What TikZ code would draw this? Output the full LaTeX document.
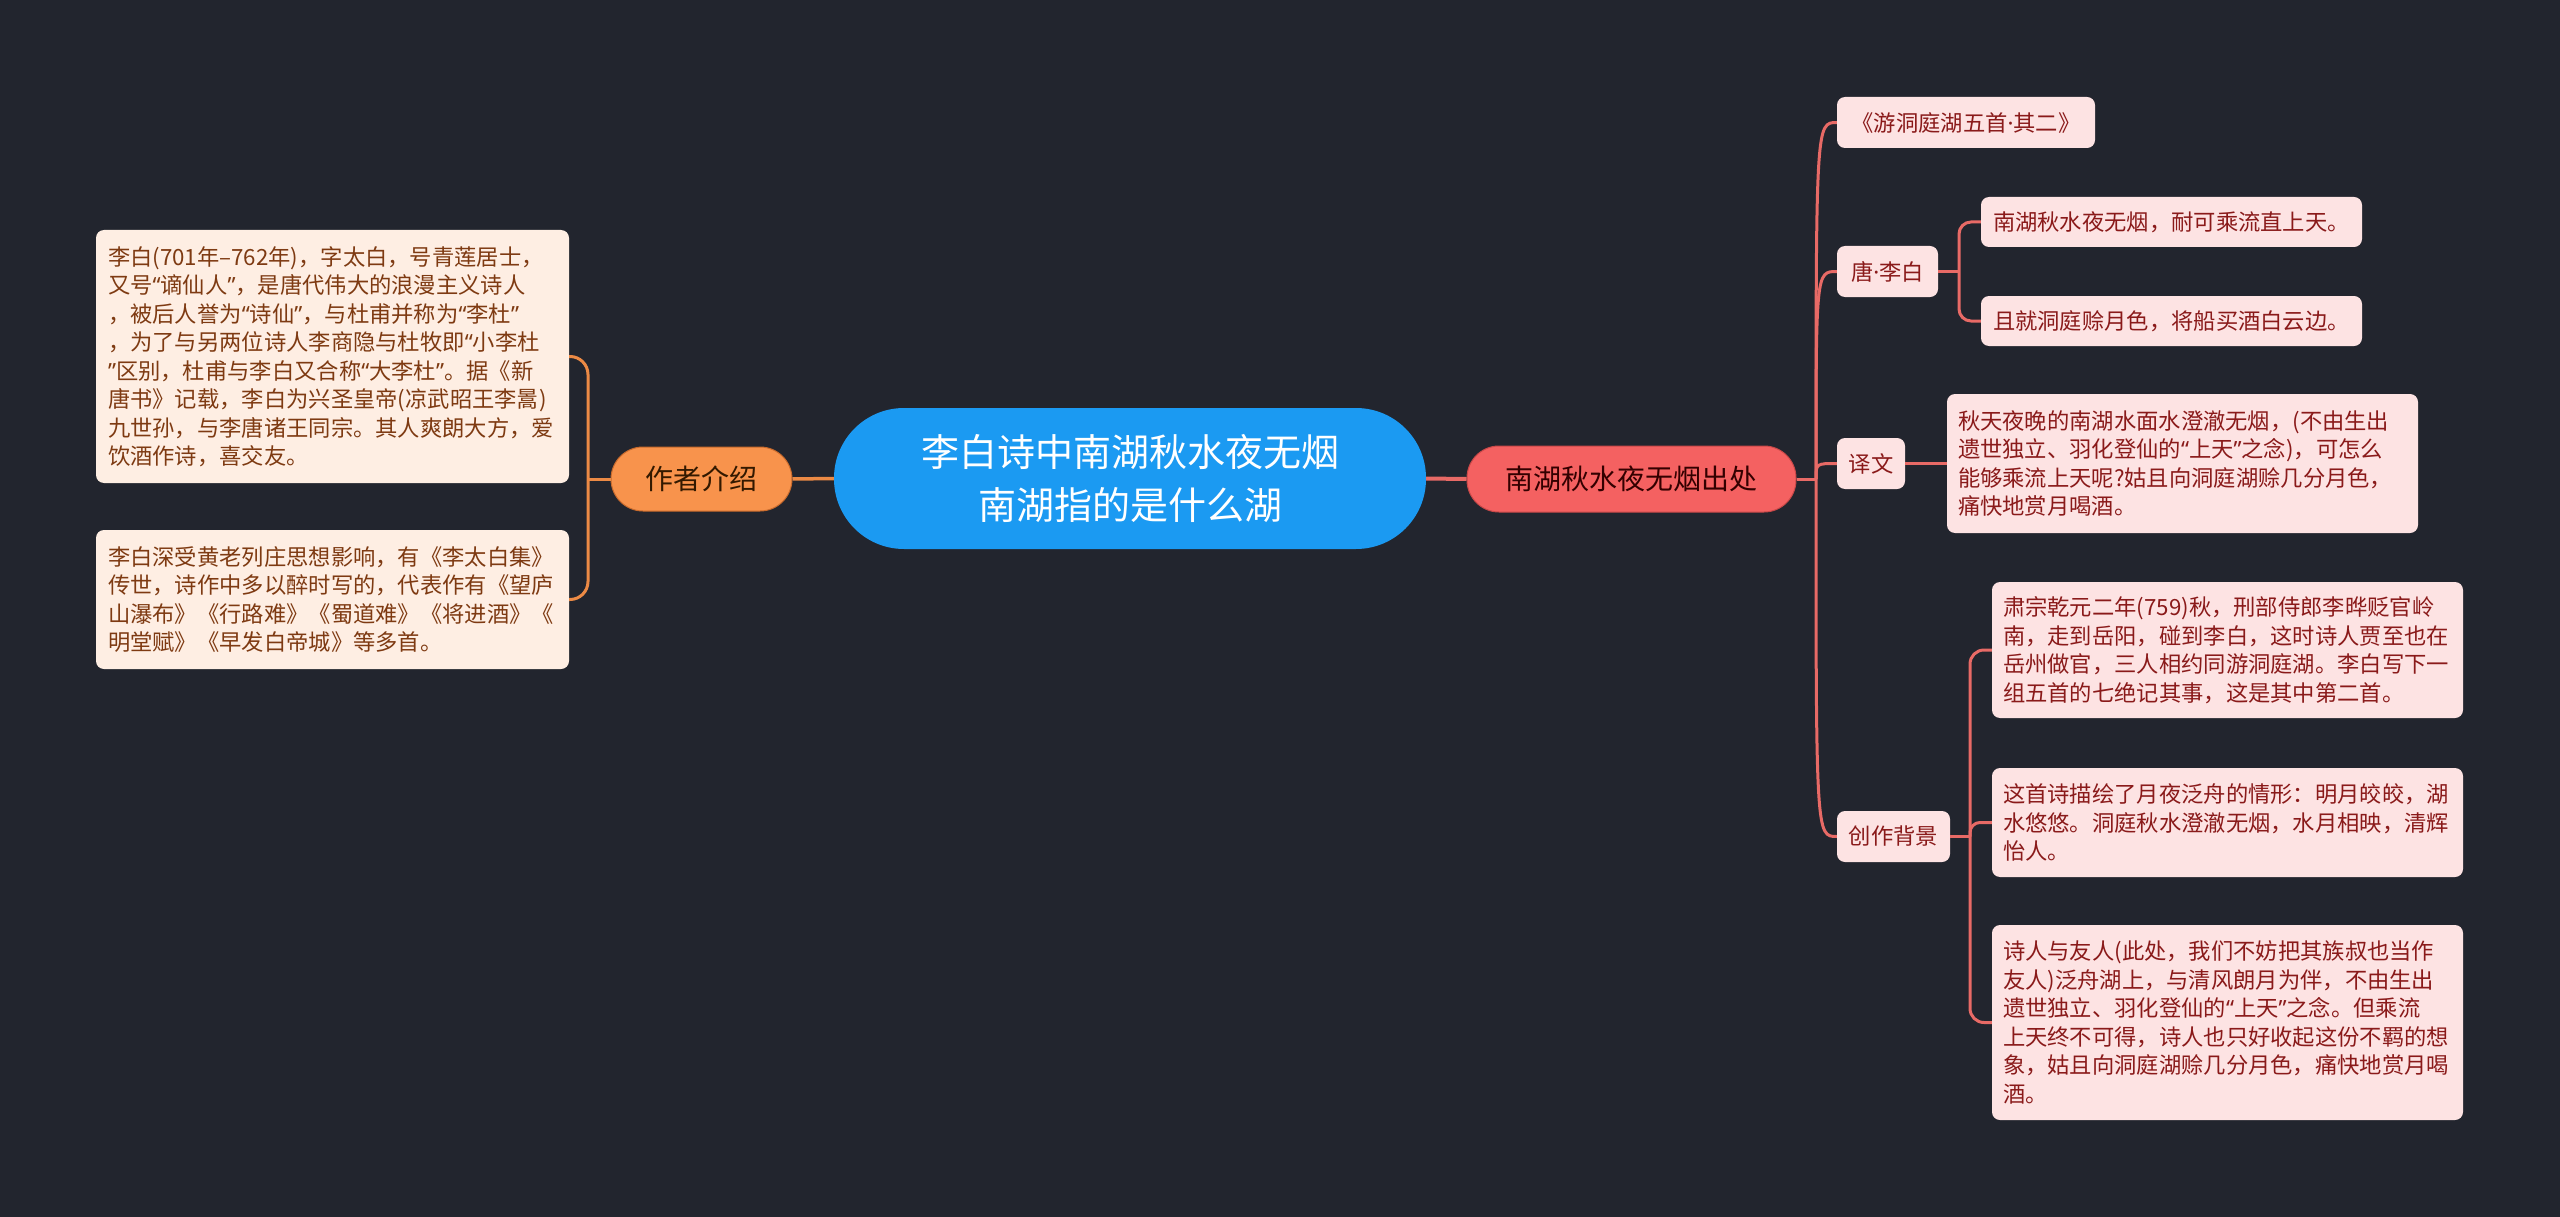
\documentclass[tikz,border=0pt]{standalone}
\usepackage{fontspec}
\setmainfont{Noto Sans CJK SC}
\newfontfamily\latinf{Noto Sans}
\newcommand\myqo{{\latinf “}}
\newcommand\myqc{{\latinf ”}}
\newcommand\mydot{{\latinf ·}}
\definecolor{bgc}{HTML}{22252E}
\definecolor{rootc}{HTML}{1B9AF2}
\definecolor{redn}{HTML}{F46161}
\definecolor{redb}{HTML}{C94848}
\definecolor{redl}{HTML}{E86A66}
\definecolor{orn}{HTML}{F8934C}
\definecolor{orb}{HTML}{C86A2C}
\definecolor{orl}{HTML}{EC8A45}
\definecolor{pinkf}{HTML}{FDE3E3}
\definecolor{pinkt}{HTML}{8A1A1A}
\definecolor{peachf}{HTML}{FEEEE3}
\definecolor{peacht}{HTML}{7E3A12}
\begin{document}
\begin{tikzpicture}[x=1pt,y=-1pt,
  rootn/.style={fill=rootc, text=white, rounded corners=70pt, inner sep=0pt, align=center,
    font=\fontsize{38}{53}\selectfont},
  lvlred/.style={fill=redn, draw=redb, line width=1pt, text=black!80!red, rounded corners=32pt, inner sep=0pt,
    font=\fontsize{28}{34}\selectfont},
  lvlor/.style={fill=orn, draw=orb, line width=1pt, text=black!80!orange, rounded corners=32pt, inner sep=0pt,
    font=\fontsize{28}{34}\selectfont},
  leafr/.style={fill=pinkf, text=pinkt, rounded corners=8pt, inner sep=0pt, align=left,
    font=\fontsize{22.3}{28.5}\selectfont},
  leafo/.style={fill=peachf, text=peacht, rounded corners=8pt, inner sep=0pt, align=left,
    font=\fontsize{22.3}{28.5}\selectfont},
  redline/.style={draw=redl, line width=3pt},
  orline/.style={draw=orl, line width=3pt}
]
\fill[bgc] (0,0) rectangle (2560,1217);
\useasboundingbox (0,0) rectangle (2560,1217);

% main nodes
\node[rootn, minimum width=592pt, minimum height=141pt] (root) at (1130,478.5)
  {李白诗中南湖秋水夜无烟\\南湖指的是什么湖};
\node[lvlred, minimum width=329pt, minimum height=66pt] (src) at (1631.5,479) {南湖秋水夜无烟出处};
\node[lvlor, minimum width=181pt, minimum height=64pt] (author) at (701.5,479) {作者介绍};

% left leaves
\node[leafo, minimum width=473pt, minimum height=253pt, text width=449pt] (L1) at (332.5,356.5)
  {李白(701年–762年)，字太白，号青莲居士，\\
   又号\myqo 谪仙人\myqc，是唐代伟大的浪漫主义诗人\\
   ，被后人誉为\myqo 诗仙\myqc，与杜甫并称为\myqo 李杜\myqc\\
   ，为了与另两位诗人李商隐与杜牧即\myqo 小李杜\\
   \myqc 区别，杜甫与李白又合称\myqo 大李杜\myqc。据《新\\
   唐书》记载，李白为兴圣皇帝(凉武昭王李暠)\\
   九世孙，与李唐诸王同宗。其人爽朗大方，爱\\
   饮酒作诗，喜交友。};
\node[leafo, minimum width=473pt, minimum height=139pt, text width=449pt] (L2) at (332.5,599.5)
  {李白深受黄老列庄思想影响，有《李太白集》\\
   传世，诗作中多以醉时写的，代表作有《望庐\\
   山瀑布》《行路难》《蜀道难》《将进酒》《\\
   明堂赋》《早发白帝城》等多首。};

% right level 2
\node[leafr, align=center, minimum width=258pt, minimum height=51pt] (title) at (1966,122.5) {《游洞庭湖五首\mydot 其二》};
\node[leafr, align=center, minimum width=101pt, minimum height=51pt] (tang) at (1887.5,271.5) {唐\mydot 李白};
\node[leafr, align=center, minimum width=68pt, minimum height=51pt] (yiwen) at (1871,463.5) {译文};
\node[leafr, align=center, minimum width=113pt, minimum height=51pt] (bg) at (1893.5,836.5) {创作背景};

% right leaves
\node[leafr, minimum width=381pt, minimum height=50pt, text width=357pt] (p1) at (2171.5,222)
  {南湖秋水夜无烟，耐可乘流直上天。};
\node[leafr, minimum width=381pt, minimum height=50pt, text width=357pt] (p2) at (2171.5,321)
  {且就洞庭赊月色，将船买酒白云边。};
\node[leafr, minimum width=471pt, minimum height=139pt, text width=449pt] (tr) at (2182.5,463.5)
  {秋天夜晚的南湖水面水澄澈无烟，(不由生出\\
   遗世独立、羽化登仙的\myqo 上天\myqc 之念)，可怎么\\
   能够乘流上天呢?姑且向洞庭湖赊几分月色，\\
   痛快地赏月喝酒。};
\node[leafr, minimum width=471pt, minimum height=136pt, text width=449pt] (b1) at (2227.5,650)
  {肃宗乾元二年(759)秋，刑部侍郎李晔贬官岭\\
   南，走到岳阳，碰到李白，这时诗人贾至也在\\
   岳州做官，三人相约同游洞庭湖。李白写下一\\
   组五首的七绝记其事，这是其中第二首。};
\node[leafr, minimum width=471pt, minimum height=109pt, text width=449pt] (b2) at (2227.5,822.5)
  {这首诗描绘了月夜泛舟的情形：明月皎皎，湖\\
   水悠悠。洞庭秋水澄澈无烟，水月相映，清辉\\
   怡人。};
\node[leafr, minimum width=471pt, minimum height=195pt, text width=449pt] (b3) at (2227.5,1022.5)
  {诗人与友人(此处，我们不妨把其族叔也当作\\
   友人)泛舟湖上，与清风朗月为伴，不由生出\\
   遗世独立、羽化登仙的\myqo 上天\myqc 之念。但乘流\\
   上天终不可得，诗人也只好收起这份不羁的想\\
   象，姑且向洞庭湖赊几分月色，痛快地赏月喝\\
   酒。};

% junction coordinates
\coordinate (lt) at (588,479);
\coordinate (rt) at (1816,479);
\coordinate (tj) at (1959,271.5);
\coordinate (bj) at (1970,836.5);

% connectors
\draw[redline, line width=4pt] (root.east) -- (src.west);
\draw[orline, line width=3.5pt] (root.west) -- (author.east);

\draw[orline] (author.west) -- (lt);
\draw[orline, rounded corners=18pt] (L1.east) -| (lt) |- (L2.east);

\draw[redline] (src.east) -- (rt);
\draw[redline] (rt) .. controls (rt |- title.west) .. (title.west);
\draw[redline] (rt) .. controls (rt |- tang.west) .. (tang.west);
\draw[redline] (rt) .. controls (rt |- yiwen.west) .. (yiwen.west);
\draw[redline] (rt) .. controls (rt |- bg.west) .. (bg.west);

\draw[redline] (tang.east) -- (tj);
\draw[redline, rounded corners=12pt] (p1.west) -| (tj) |- (p2.west);
\draw[redline] (yiwen.east) -- (tr.west);
\draw[redline] (bg.east) -- (bj);
\draw[redline, rounded corners=14pt] (b1.west) -| (bj) |- (b3.west);
\draw[redline, rounded corners=10pt] (bj) |- (b2.west);
\end{tikzpicture}
\end{document}
